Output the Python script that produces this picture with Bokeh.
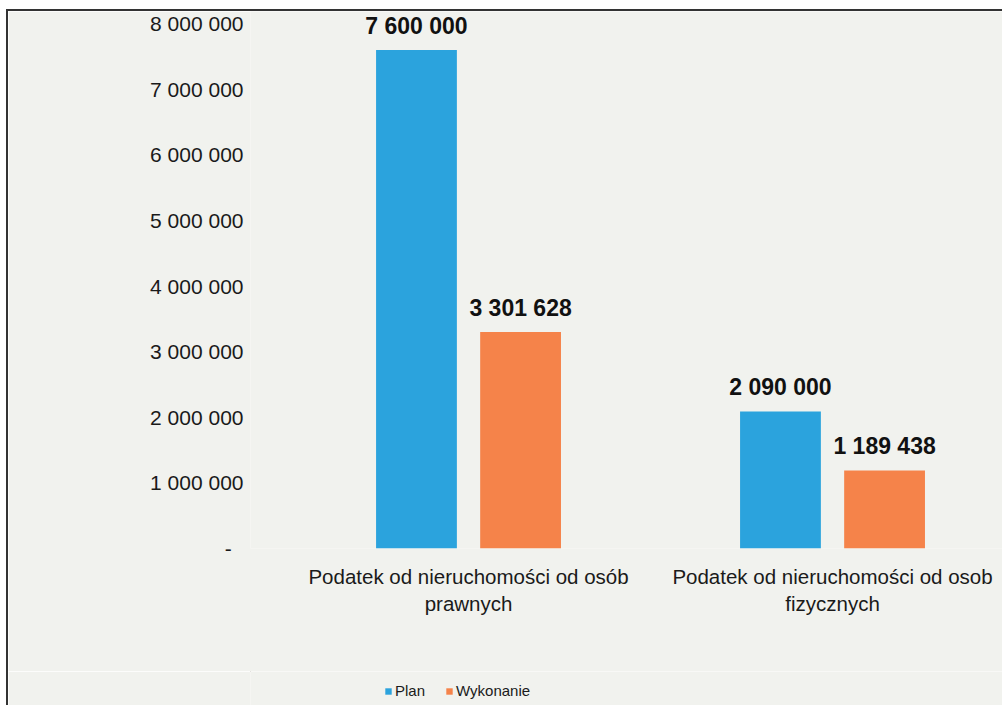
from bokeh.plotting import figure
from bokeh.layouts import column
from bokeh.models import Range1d, FixedTicker, Legend, LegendItem, ColumnDataSource
from bokeh.embed import file_html
from bokeh.resources import INLINE
from bokeh.core.properties import value

# ---- data ----
categories = ["Podatek od nieruchomości od osób\nprawnych",
              "Podatek od nieruchomości od osob\nfizycznych"]
series = ["Plan", "Wykonanie"]
plan = [7600000, 2090000]
wykonanie = [3301628, 1189438]
plan_labels = ["7 600 000", "2 090 000"]
wyk_labels = ["3 301 628", "1 189 438"]
y_ticks = [0, 1000000, 2000000, 3000000, 4000000, 5000000, 6000000, 7000000, 8000000]
y_tick_labels = ["-\u00a0\u00a0", "1 000 000", "2 000 000", "3 000 000", "4 000 000",
                 "5 000 000", "6 000 000", "7 000 000", "8 000 000"]

BLUE = "#2ba3dd"
ORANGE = "#f5834a"
BG = "#f1f2ee"
FONT = "Liberation Sans"

idx = list(range(len(categories)))
off = 0.143
bw = 0.222

p = figure(width=994, height=660, output_backend="svg", toolbar_location=None,
           x_range=Range1d(-0.599, 1.467), y_range=Range1d(0, 8186000),
           min_border_left=242, min_border_right=0, min_border_top=0,
           min_border_bottom=123)
p.background_fill_color = BG
p.border_fill_color = BG
p.outline_line_color = None
p.grid.grid_line_color = None

src_p = ColumnDataSource(dict(x=[i - off for i in idx], top=plan, lab=plan_labels))
src_w = ColumnDataSource(dict(x=[i + off for i in idx], top=wykonanie, lab=wyk_labels))

p.vbar(x="x", top="top", width=bw, source=src_p, fill_color=BLUE, line_color=None)
p.vbar(x="x", top="top", width=bw, source=src_w, fill_color=ORANGE, line_color=None)

for src in (src_p, src_w):
    p.text(x="x", y="top", text="lab", source=src, text_align="center",
           text_baseline="middle", y_offset=-24,
           text_font=value(FONT), text_font_style="bold", text_font_size="23px",
           text_color="#111111")

# y axis
p.yaxis.ticker = FixedTicker(ticks=y_ticks)
p.yaxis.major_label_overrides = {t: l for t, l in zip(y_ticks, y_tick_labels)}
p.yaxis.axis_line_color = None
p.yaxis.major_tick_line_color = None
p.yaxis.minor_tick_line_color = None
p.yaxis.major_label_standoff = 1
p.yaxis.major_label_text_font = FONT
p.yaxis.major_label_text_font_size = "21px"
p.yaxis.major_label_text_color = "#1a1a1a"

# x axis
p.xaxis.ticker = FixedTicker(ticks=idx)
p.xaxis.major_label_overrides = {i: c for i, c in zip(idx, categories)}
p.xaxis.axis_line_color = None
p.xaxis.major_tick_line_color = None
p.xaxis.minor_tick_line_color = None
p.xaxis.major_label_standoff = 10
p.xaxis.major_label_text_font = FONT
p.xaxis.major_label_text_font_size = "20.5px"
p.xaxis.major_label_text_color = "#1a1a1a"

# legend strip below the chart (same series, bars kept out of its view)
leg = figure(width=994, height=34, output_backend="svg", toolbar_location=None,
             x_range=Range1d(10, 11), y_range=Range1d(-2, -1),
             min_border_left=0, min_border_right=0, min_border_top=0,
             min_border_bottom=0)
leg.axis.visible = False
leg.grid.grid_line_color = None
leg.outline_line_color = None
leg.background_fill_color = BG
leg.border_fill_color = BG
lp = leg.vbar(x="x", top="top", width=bw, source=src_p, fill_color=BLUE, line_color=None)
lw = leg.vbar(x="x", top="top", width=bw, source=src_w, fill_color=ORANGE, line_color=None)

legend = Legend(items=[LegendItem(label=series[0], renderers=[lp]),
                       LegendItem(label=series[1], renderers=[lw])],
                location=(134, 6), orientation="horizontal")
legend.background_fill_alpha = 0
legend.border_line_color = None
legend.padding = 0
legend.margin = 0
legend.glyph_width = 8
legend.glyph_height = 8
legend.label_standoff = 3
legend.spacing = 20
legend.label_text_font = FONT
legend.label_text_font_size = "15px"
legend.label_text_color = "#1a1a1a"
leg.add_layout(legend, "center")

layout = column(p, leg, spacing=0)
layout.styles = {"border-left": "2px solid #333", "border-top": "2px solid #333",
                 "margin-left": "6px", "margin-top": "9px"}

open("out.html", "w").write(file_html(layout, INLINE))
